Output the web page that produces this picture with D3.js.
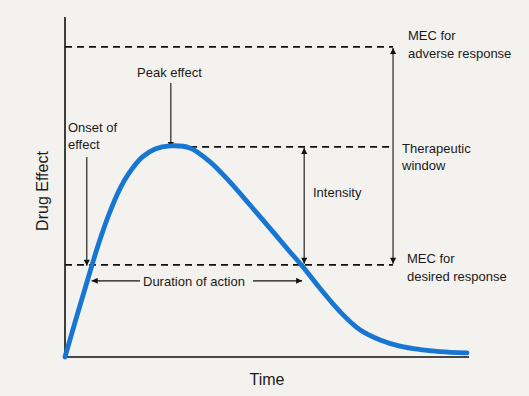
<!DOCTYPE html>
<html lang="en">
<head>
    <meta charset="utf-8">
    <title>Drug effect vs time</title>
    <script type="text/javascript" src="https://d3js.org/d3.v7.min.js"></script>
    <style type="text/css">
        body { margin: 0; overflow: hidden; background: #f4f2ee; }
        svg { display: block; }
        text { font-family: "Liberation Sans", Arial, sans-serif; fill: #1a1a1a; }
    </style>
</head>
<body>
    <script type="text/javascript">
        // Curve (time and effect in arbitrary 0-100 units)
        var timePts   = [0, 2.5, 5.0, 6.7, 8.4, 10.9, 13.4, 15.8, 19.1, 22.3, 26.0, 30.9, 35.9, 40.8, 45.8, 50.7, 55.7, 58.7, 63.1, 68.1, 73.0, 78.0, 82.9, 87.9, 92.8, 99.5];
        var effectPts = [0, 10.3, 20.3, 27.1, 33.6, 42.0, 49.0, 54.0, 58.8, 61.2, 62.1, 61.5, 57.4, 51.5, 44.7, 37.9, 30.9, 26.8, 20.2, 13.3, 8.0, 5.0, 3.2, 2.2, 1.6, 1.2];

        // Reference levels
        var levelNames  = ["mecAdverse", "peak", "mecDesired"];
        var levelValues = [91.2, 61.8, 27.1];
        var levelStart  = [0, 28, 0];
        var levelEnd    = 81.2;

        // Annotation arrow positions (data units)
        var onsetTime = 5.4, peakTime = 26.2, intensityTime = 59.2, windowTime = 81.2;
        var durationStart = 6.6, durationEnd = 58.7, durationLevel = 22.4;

        var width = 529, height = 396;
        var x = d3.scaleLinear().domain([0, 100]).range([65, 469]);
        var y = d3.scaleLinear().domain([0, 100]).range([357, 17]);

        var svg = d3.select("body").append("svg")
            .attr("width", width)
            .attr("height", height);

        // arrowhead
        svg.append("defs").append("marker")
            .attr("id", "head")
            .attr("viewBox", "0 0 10 10")
            .attr("refX", 10).attr("refY", 5)
            .attr("markerWidth", 8).attr("markerHeight", 6)
            .attr("markerUnits", "userSpaceOnUse")
            .attr("orient", "auto-start-reverse")
            .append("path")
            .attr("d", "M0,0L10,5L0,10z")
            .attr("fill", "#111");

        var level = {};
        levelNames.forEach(function(n, i) { level[n] = levelValues[i]; });

        // dashed level lines
        svg.selectAll(".level")
            .data(levelValues)
            .enter().append("line")
            .attr("class", "level")
            .attr("x1", function(d, i) { return x(levelStart[i]); })
            .attr("x2", x(levelEnd))
            .attr("y1", function(d) { return y(d); })
            .attr("y2", function(d) { return y(d); })
            .attr("stroke", "#111")
            .attr("stroke-width", 1.6)
            .attr("stroke-dasharray", "7,5");

        // axes (plain lines, no ticks)
        svg.append("line")
            .attr("x1", x(0)).attr("x2", x(0))
            .attr("y1", y(0)).attr("y2", y(100))
            .attr("stroke", "#111").attr("stroke-width", 1.6);
        svg.append("line")
            .attr("x1", x(0)).attr("x2", x(100))
            .attr("y1", y(0)).attr("y2", y(0))
            .attr("stroke", "#111").attr("stroke-width", 1.6);

        // arrows
        function arrow(x1, y1, x2, y2, both) {
            var l = svg.append("line")
                .attr("x1", x1).attr("y1", y1)
                .attr("x2", x2).attr("y2", y2)
                .attr("stroke", "#111").attr("stroke-width", 1.1)
                .attr("marker-end", "url(#head)");
            if (both) l.attr("marker-start", "url(#head)");
        }
        arrow(x(onsetTime), y(58.8), x(onsetTime), y(level.mecDesired) + 1);
        arrow(x(peakTime), y(80.6), x(peakTime), y(level.peak) + 1);
        arrow(x(intensityTime), y(level.mecDesired) - 1, x(intensityTime), y(level.peak) + 1, true);
        arrow(x(windowTime), y(level.mecDesired) - 1, x(windowTime), y(level.mecAdverse) + 1, true);

        // duration of action: two half arrows around the label
        arrow(140, y(durationLevel), x(durationStart), y(durationLevel));
        arrow(253, y(durationLevel), x(durationEnd), y(durationLevel));

        // the effect curve
        var line = d3.line()
            .x(function(d, i) { return x(timePts[i]); })
            .y(function(d) { return y(d); })
            .curve(d3.curveCatmullRom.alpha(0.5));

        svg.append("path")
            .datum(effectPts)
            .attr("d", line)
            .attr("fill", "none")
            .attr("stroke", "#1676d2")
            .attr("stroke-width", 4.8)
            .attr("stroke-linecap", "round");

        // labels
        var labels = [
            ["Peak effect", 137, 77],
            ["Onset of", 68, 132],
            ["effect", 68, 149],
            ["MEC for", 408, 40],
            ["adverse response", 408, 58],
            ["Therapeutic", 402, 153],
            ["window", 402, 170],
            ["Intensity", 313, 197],
            ["MEC for", 407, 263],
            ["desired response", 407, 281],
            ["Duration of action", 143, 286]
        ];
        svg.selectAll(".lbl")
            .data(labels)
            .enter().append("text")
            .attr("class", "lbl")
            .attr("x", function(d) { return d[1]; })
            .attr("y", function(d) { return d[2]; })
            .attr("font-size", 13)
            .text(function(d) { return d[0]; });

        svg.append("text")
            .attr("x", 267).attr("y", 385)
            .attr("text-anchor", "middle")
            .attr("font-size", 16)
            .text("Time");

        svg.append("text")
            .attr("transform", "translate(48,191) rotate(-90)")
            .attr("text-anchor", "middle")
            .attr("font-size", 16)
            .text("Drug Effect");
    </script>
</body>
</html>
